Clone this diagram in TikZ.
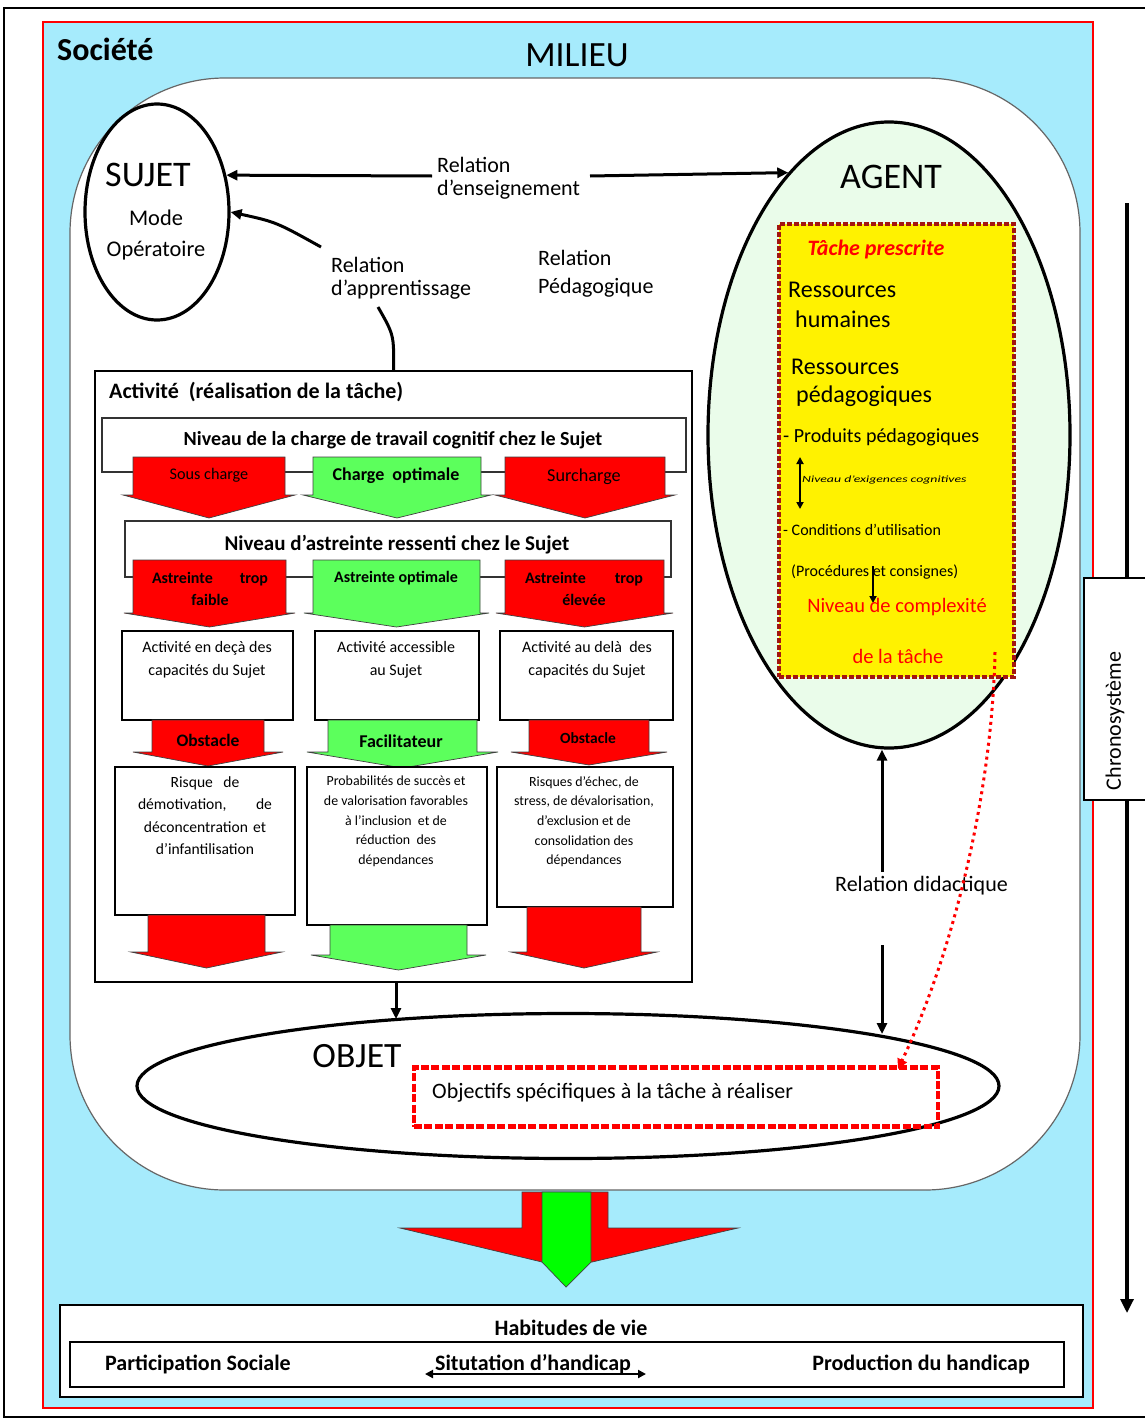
\documentclass[tikz,border=0pt]{standalone}
\usepackage{fontspec}
\setmainfont{Carlito}
\usetikzlibrary{shapes.geometric,arrows.meta,calc}
\definecolor{skyfill}{HTML}{A6EBFC}
\definecolor{agentfill}{HTML}{EAFCEA}
\definecolor{softgreen}{HTML}{5CFF5C}
\definecolor{brightgreen}{HTML}{00FF00}
\definecolor{dashred}{HTML}{A31510}
\newcommand\fsz[2]{\fontsize{#1}{#2}\selectfont}
% block arrow: fill, x left, x right, y top, y wing, wing overhang, y tip
\newcommand\blkarrow[7]{%
  \filldraw[blockarrow, fill=#1] (#2,#4) -- (#3,#4) -- (#3,#5) -- ({#3+#6},#5)
    -- ({(#2+#3)/2},#7) -- ({#2-#6},#5) -- (#2,#5) -- cycle;}
\begin{document}
\begin{tikzpicture}[x=1pt,y=-1pt,
  blockarrow/.style={draw=black!75, line width=0.7},
  arr/.style={line width=3, -{Triangle[length=11,width=10]}},
  plainline/.style={line width=3},
  wbox/.style={draw=black, fill=white, line width=1.6},
  txt/.style={inner sep=0, font=\fsz{18}{22}},
  reddot/.style={draw=red, line width=3, dash pattern=on 3 off 4, line cap=butt,
    -{Triangle[length=10,width=10]}},
]
\useasboundingbox (0,0) rectangle (1145,1421);
\fill[white] (0,0) rectangle (1145,1421);

% outer frame and society
\draw[line width=1.2] (4,8) rectangle (1160,1417);
\draw[fill=skyfill, draw=red, line width=1.5] (43,22) rectangle (1093,1408);
\node[txt, font=\fsz{32}{36}\bfseries, anchor=west] (societe) at (57,49) {Société};
\node[txt, font=\fsz{35.5}{38}] (milieu) at (577,55) {MILIEU};

% milieu (white rounded area)
\draw[fill=white, draw=black!60, line width=1.2] [rounded corners=155] (70,78) rectangle (1080,1190);

% chronosystem
\draw[line width=3.2, -{Triangle[length=14,width=13]}] (1127,203) -- (1127,1313);
\draw[fill=white, line width=1.4] (1084,578) rectangle (1160,800);
\node[txt, font=\fsz{22}{24}, rotate=90] (chrono) at (1115,721) {Chronosystème};

% SUJET
\node[draw, ellipse, fill=white, line width=3.2, minimum width=144, minimum height=216, inner sep=0] (sujet) at (157,212) {};
\node[txt, font=\fsz{36}{40}] (sujetlbl) at (148,175) {SUJET};
\node[txt, font=\fsz{22.4}{31}, align=center] (mode) at (156,235) {Mode\\Opératoire};

% AGENT
\node[draw, ellipse, fill=agentfill, line width=3.2, minimum width=362, minimum height=626, inner sep=0] (agent) at (889,435) {};
\node[txt, font=\fsz{36}{40}] (agentlbl) at (891,177) {AGENT};

% prescribed task
\node[draw=dashred, fill=yellow, line width=4.6, dash pattern=on 4.6 off 2.4, minimum width=235, minimum height=453, inner sep=0] (task) at (896.5,450.5) {};
\node[txt, font=\fsz{22}{24}\bfseries\itshape, text=red] (tache) at (876,250) {Tâche prescrite};
\node[txt, font=\fsz{24}{30}, anchor=west, align=left] (rh) at (788,305) {Ressources\\[0pt]\hspace*{7pt}humaines};
\node[txt, font=\fsz{24}{28}, anchor=west, align=left] (rp) at (791,383) {Ressources\\\hspace*{5pt}pédagogiques};
\node[txt, font=\fsz{20}{22}, anchor=west] (prod) at (783,437) {- Produits pédagogiques};
\node[txt, font=\fsz{9.5}{11}\itshape, anchor=west] (exig) at (802,480) {\scalebox{1.45}[1]{Niveau d’exigences cognitives}};
\draw[line width=1.8, {Triangle[length=7,width=7]}-{Triangle[length=7,width=7]}] (800,457) -- (800,509);
\node[txt, font=\fsz{16}{18}, anchor=west] (cond) at (783,530) {- Conditions d’utilisation};
\node[txt, font=\fsz{16}{18}, anchor=west] (proc) at (791,572) {(Procédures et consignes)};
\draw[line width=1.8, -{Triangle[length=7,width=7]}] (873,566) -- (873,603);
\node[txt, font=\fsz{20.5}{24}, text=red] (cplx) at (897,607) {Niveau de complexité};
\node[txt, font=\fsz{20.5}{24}, text=red] (cplx2) at (898,656) {de la tâche};

% relations
\coordinate (ens1) at (432,176);
\coordinate (ens2) at (590,176);
\draw[arr] (ens1) -- (sujet.28);
\draw[arr] (ens2) -- (agent.111.4);
\node[txt, font=\fsz{22}{23}, align=left, anchor=west] (enseign) at (437,178) {Relation\\d’enseignement};
\coordinate (app1) at (321,247);
\coordinate (app2) at (378,307);
\draw[arr] (app1) .. controls (276,222) .. (sujet.east);
\node[txt, font=\fsz{22}{23}, align=left, anchor=west] (apprent) at (331,278) {Relation\\d’apprentissage};
\node[txt, font=\fsz{22}{28}, align=left, anchor=west] (pedago) at (538,274) {Relation\\Pédagogique};

% activity block
\node[draw, fill=white, line width=1.6, minimum width=597, minimum height=611, inner sep=0] (act) at (393.5,676.5) {};
\draw[plainline] (app2) .. controls (394,335) .. (act.north);
\node[txt, font=\fsz{22}{24}\bfseries, anchor=west] (acttitle) at (109,392) {Activité~ (réalisation de la tâche)};

% cognitive load level
\draw[draw=black!80, fill=white, line width=1.3] (102,418) rectangle (686,472);
\node[txt, font=\fsz{20}{22}\bfseries] (charge) at (393,440) {Niveau de la charge de travail cognitif chez le Sujet};
\blkarrow{red}{133}{285}{457}{495}{10}{518}
\blkarrow{softgreen}{313}{481}{457}{495}{10}{518}
\blkarrow{red}{505}{665}{457}{495}{10}{518}
\node[txt, font=\fsz{16.2}{18}] (souscharge) at (209,475) {Sous charge};
\node[txt, font=\fsz{18}{20}\bfseries] (chargeopt) at (396,476) {Charge~ optimale};
\node[txt, font=\fsz{18.2}{20}] (surcharge) at (584,477) {Surcharge};

% strain level
\draw[draw=black!80, fill=white, line width=1.3] (125,521) rectangle (671,577);
\node[txt, font=\fsz{21}{22}\bfseries] (astreinte) at (397,545) {Niveau d’astreinte ressenti chez le Sujet};
\blkarrow{red}{133}{286}{560}{613}{9}{627}
\blkarrow{softgreen}{313}{480}{560}{613}{9}{627}
\blkarrow{red}{505}{664}{560}{613}{9}{627}
\node[txt, font=\fsz{16}{22}\bfseries, text width=116, align=center] (astfaible) at (210,589) {Astreinte\hfill trop\\faible};
\node[txt, font=\fsz{16}{22}\bfseries] (astopt) at (396,578) {Astreinte optimale};
\node[txt, font=\fsz{16}{22}\bfseries, text width=118, align=center] (asteleve) at (584,589) {Astreinte\hfill trop\\élevée};

% activity vs capacities
\draw[wbox] (122,631) rectangle (293,720);
\draw[wbox] (315,631) rectangle (479,720);
\draw[wbox] (500,631) rectangle (673,720);
\node[txt, font=\fsz{16}{23}, align=center] (cap1) at (207,660) {Activité en deçà des\\capacités du Sujet};
\node[txt, font=\fsz{16}{23}, align=center] (cap2) at (396,660) {Activité accessible\\au Sujet};
\node[txt, font=\fsz{16}{23}, align=center] (cap3) at (587,660) {Activité au delà~ des\\capacités du Sujet};

\blkarrow{red}{152}{264}{720}{752}{19}{766}
\blkarrow{softgreen}{328}{477}{720}{752}{21}{768}
\blkarrow{red}{529}{649}{720}{752}{18}{765}
\node[txt, font=\fsz{17.5}{20}\bfseries] (obst1) at (208,740) {Obstacle};
\node[txt, font=\fsz{18}{20}\bfseries] (facil) at (401,741) {Facilitateur};
\node[txt, font=\fsz{15.5}{20}\bfseries] (obst2) at (588,738) {Obstacle};

% consequences
\draw[wbox] (115,767) rectangle (295,915);
\draw[wbox] (307,767) rectangle (487,925);
\draw[wbox] (497,767) rectangle (673,907);
\node[txt, font=\fsz{15.6}{22.5}, text width=134, align=center, anchor=north] (risk1) at (205,776) {Risque~ de\\démotivation,\hfill de\\déconcentration et\\d’infantilisation};
\node[txt, font=\fsz{13.9}{19.7}, align=center, anchor=north] (proba) at (396,776) {Probabilités de succès et\\de valorisation favorables\\à l’inclusion~ et de\\réduction~ des\\dépendances};
\node[txt, font=\fsz{13.9}{19.7}, align=center, anchor=north] (risk3) at (584,776) {Risques d’échec, de\\stress, de dévalorisation,\\d’exclusion et de\\consolidation des\\dépendances};

\blkarrow{red}{148}{265}{915}{952}{17}{968}
\blkarrow{softgreen}{330}{467}{925}{955}{19}{970}
\blkarrow{red}{527}{641}{907}{952}{16}{968}

% OBJET
\node[draw, ellipse, fill=white, line width=3.2, minimum width=862, minimum height=145, inner sep=0] (objet) at (568,1086) {};
\node[txt, font=\fsz{35.6}{38}] (objetlbl) at (357,1056) {OBJET};
\node[draw=red, line width=4.4, dash pattern=on 8 off 2.4, minimum width=524, minimum height=59, inner sep=0] (objbox) at (676,1097) {};
\node[txt, font=\fsz{22}{24}, anchor=west] (objtxt) at (432,1093) {Objectifs spécifiques à la tâche à réaliser};

\coordinate (objL) at (396,1019);
\draw[arr] (act.south -| objL) -- (objL);

% didactic relation
\coordinate (rdU) at (882,872);
\coordinate (rdD) at (882,945);
\coordinate (objR) at (882,1034);
\draw[arr] (rdU) -- (rdU |- agent.south);
\draw[arr] (rdD) -- (objR);
\node[txt, font=\fsz{22}{24}, anchor=west] (didact) at (835,886) {Relation didactique};

% complexity towards objectives
\coordinate (dotS) at (995,652);
\coordinate (dotE) at (898,1069);
\draw[reddot] (dotS) .. controls (992,800) and (950,960) .. (dotE);

% resulting arrow
\filldraw[blockarrow, fill=red] (522,1192) -- (608,1192) -- (608,1228) -- (738,1228) -- (592,1262)
  -- (542,1262) -- (400,1228) -- (522,1228) -- cycle;
\filldraw[blockarrow, fill=brightgreen] (542,1192) -- (591,1192) -- (591,1262) -- (566,1287) -- (542,1262) -- cycle;

% life habits
\draw[fill=white, line width=1.6] (60,1305) rectangle (1083,1397);
\node[txt, font=\fsz{22}{24}\bfseries] (habitudes) at (571,1328) {Habitudes de vie};
\draw[line width=1.4] (70,1342) rectangle (1064,1387);
\node[txt, font=\fsz{22}{24}\bfseries, anchor=west] (partic) at (105,1364) {Participation Sociale};
\node[txt, font=\fsz{22}{24}\bfseries] (situ) at (533,1364) {Situtation d’handicap};
\node[txt, font=\fsz{22}{24}\bfseries, anchor=east] (prodh) at (1030,1364) {Production du handicap};
\coordinate (sitL) at (425,1374);
\coordinate (sitR) at (646,1374);
\draw[line width=2.2, {Triangle[length=8,width=8]}-{Triangle[length=8,width=8]}] (sitL) -- (sitR);
\end{tikzpicture}
\end{document}
